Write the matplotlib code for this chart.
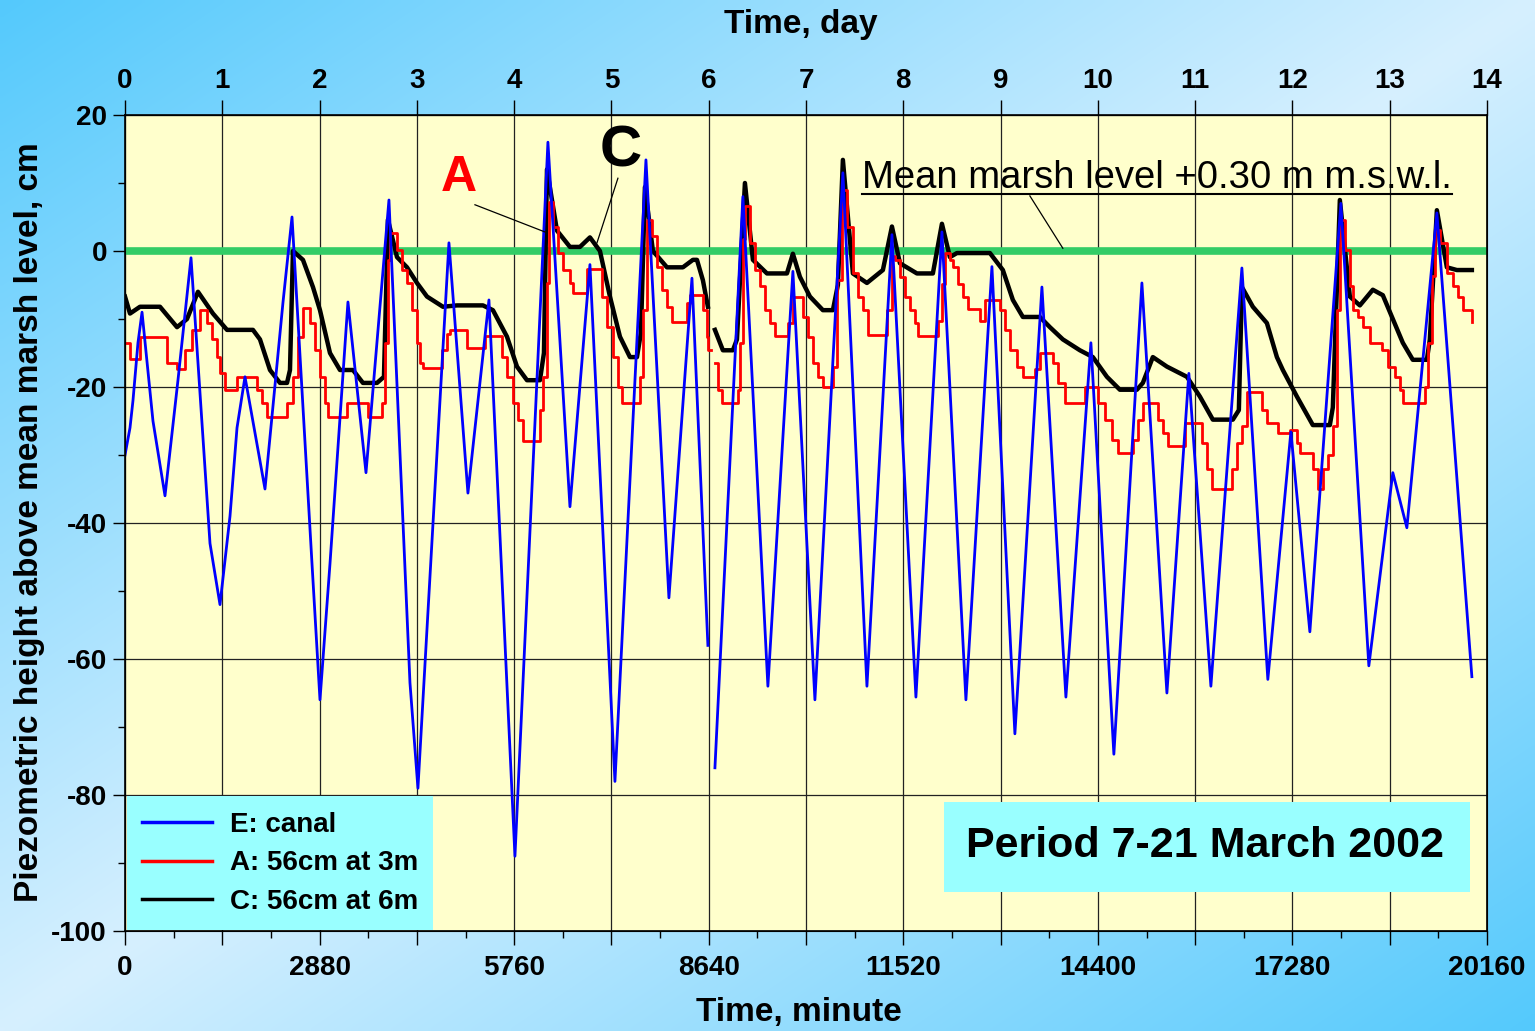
import numpy as np
import matplotlib
matplotlib.use("Agg")
from matplotlib import pyplot as plt
from matplotlib.lines import Line2D
from matplotlib.patches import Rectangle
from matplotlib.ticker import MultipleLocator, FixedLocator

plt.rcParams['font.family'] = ['Liberation Sans', 'DejaVu Sans']
plt.rcParams['axes.unicode_minus'] = False

nan = np.nan

# E: canal (time in minutes, level in cm) -- gap where logger was serviced
canal_t = [0, 74, 118, 192, 252, 414, 592, 784, 977, 1258, 1406, 1554, 1658, 1776,
           2072, 2338, 2472, 2768, 2886, 3034, 3300, 3567, 3907, 4218, 4336, 4795,
           5076, 5387, 5772, 6260, 6586, 6882, 7252, 7711, 8051, 8392, 8628, 8680,
           8732, 9146, 9516, 9886, 10212, 10626, 10982, 11352, 11707, 12092, 12447,
           12832, 13172, 13572, 13927, 14297, 14637, 15052, 15422, 15747, 16073,
           16532, 16916, 17257, 17538, 17997, 18411, 18766, 18974, 19418, 19936]
canal_h = [-30, -26, -22, -13.5, -9, -25, -36, -19, -1, -43, -52, -39, -26, -18.5,
           -35, -7.6, 5, -46, -66, -46, -7.5, -32.6, 7.5, -63.5, -79, 1.2,
           -35.6, -7.2, -89, 16, -37.6, -2, -78, 13.4, -51, -4, -58, nan,
           -76, 8, -64, -3, -66, 11.5, -64, 2.4, -65.6, 2.8, -66,
           -2.3, -71, -5.3, -65.6, -13.5, -74, -4.7, -65, -18, -64,
           -2.5, -63, -26.6, -56, 7, -61, -32.6, -40.7, 5.6, -62.6]

# A: 56cm at 3m
a_t = [0, 74, 222, 622, 770, 888, 992, 1110, 1214, 1288, 1362, 1406, 1480, 1658,
       1954, 2028, 2102, 2398, 2486, 2560, 2634, 2738, 2812, 2886, 2960, 3004,
       3286, 3596, 3804, 3848, 3892, 3922, 4026, 4100, 4174, 4248, 4322, 4366,
       4410, 4692, 4766, 4810, 5062, 5328, 5580, 5654, 5742, 5816, 5890, 6142,
       6186, 6246, 6275, 6334, 6408, 6482, 6586, 6630, 6838, 7060, 7134, 7222,
       7296, 7356, 7622, 7666, 7726, 7800, 7874, 7948, 8022, 8096, 8318, 8362,
       8554, 8614, 8628, 8680, 8732, 8776, 8836, 9072, 9102, 9146, 9176, 9250,
       9324, 9398, 9472, 9546, 9620, 9812, 9886, 10034, 10108, 10182, 10256,
       10330, 10478, 10538, 10612, 10686, 10774, 10848, 10922, 10996, 11278,
       11352, 11396, 11470, 11544, 11618, 11692, 11736, 12032, 12092, 12136,
       12210, 12254, 12328, 12402, 12476, 12654, 12728, 12950, 13024, 13098,
       13202, 13290, 13468, 13542, 13734, 13808, 13912, 14208, 14400, 14504,
       14608, 14696, 14918, 14992, 15066, 15288, 15362, 15436, 15688, 15940,
       16014, 16088, 16384, 16458, 16532, 16606, 16828, 16902, 17064, 17242,
       17346, 17390, 17582, 17656, 17730, 17804, 17878, 17938, 17982, 18056,
       18130, 18174, 18248, 18322, 18426, 18604, 18692, 18796, 18870, 18914,
       19240, 19284, 19344, 19388, 19462, 19566, 19654, 19728, 19802, 19936]
a_h = [-13.5, -15.9, -12.6, -16.5, -17.3, -14.6, -11.6, -8.7, -10.6, -13, -15.6, -18, -20.4, -18.5,
       -20.4, -22.4, -24.4, -22.4, -18.5, -12.6, -8.4, -10.6, -14.6, -18.5, -22.4, -24.4,
       -22.4, -24.4, -22.4, -13.5, -1.3, 2.6, 0.2, -2.8, -4.7, -8.7, -13.5, -16.5,
       -17.2, -14.6, -12.2, -11.6, -14.3, -12.5, -15.6, -18.5, -22.4, -24.8, -28, -23.4,
       -18.5, -4.7, 7.2, 3.6, -0.3, -2.8, -4.7, -6.2, -2.6, -6.7, -11.2, -15.6,
       -20, -22.4, -18.5, -8.7, 4.6, 2.2, -2.4, -5.7, -8.2, -10.4, -7.6, -6.5,
       -8.7, -12.6, -14.6, nan, -16.5, -20.4, -22.4, -20.4, -13.5, 1.7, 6.6, 1.2,
       -2.8, -5.2, -8.7, -10.6, -12.5, -10.6, -6.7, -9.7, -12.6, -16.5, -18.5,
       -20, -17, -4.3, 9, 3.6, -3.3, -6.7, -8.7, -12.4, -8.7,
       -0.8, -1.3, -3.8, -6.7, -8.7, -10.6, -12.5, -10.3, -4.9, -0.3,
       -1.3, -2.4, -4.8, -6.7, -8.5, -10.3, -7.2, -8.7, -11.6, -14.6,
       -17, -18.5, -17.3, -15, -16.5, -19.4, -22.4, -20, -22.4, -24.8,
       -27.8, -29.7, -27.8, -24.8, -22.4, -24.8, -26.8, -28.7, -25.3, -28.2,
       -32, -35, -32, -28.2, -25.8, -20.7, -23.4, -25.3, -26.8, -26.3,
       -28.2, -29.7, -32, -35, -32, -30, -25.8, -8.7, 4.6, 0.2,
       -5.2, -8.7, -9.7, -11.2, -13.5, -14.6, -17, -18.5, -20.4, -22.4,
       -20, -13.5, -3.7, 3.1, 1.2, -3.3, -5.2, -6.7, -8.7, -10.4]

# C: 56cm at 6m
c_t = [0, 74, 222, 518, 770, 918, 1080, 1302, 1510, 1894, 1998, 2146, 2294, 2398,
       2442, 2486, 2634, 2782, 2886, 3034, 3182, 3374, 3522, 3730, 3833, 3892,
       4026, 4174, 4322, 4470, 4706, 4914, 5298, 5446, 5654, 5802, 5950, 6142,
       6201, 6246, 6394, 6586, 6734, 6882, 7030, 7178, 7326, 7474, 7578, 7637,
       7696, 7814, 8022, 8258, 8406, 8466, 8554, 8628, 8680, 8732, 8850, 8998,
       9058, 9176, 9294, 9502, 9798, 9886, 9990, 10138, 10330, 10478, 10552,
       10626, 10774, 10982, 11218, 11352, 11470, 11722, 11958, 12092, 12210,
       12314, 12802, 12994, 13142, 13290, 13542, 13690, 13882, 14134, 14326,
       14534, 14726, 14978, 15066, 15214, 15422, 15718, 15910, 16102, 16398,
       16487, 16532, 16694, 16902, 17050, 17138, 17346, 17582, 17834, 17878,
       17982, 18130, 18278, 18470, 18618, 18766, 18914, 19062, 19270, 19314,
       19418, 19566, 19714, 19936]
c_h = [-6.7, -9.2, -8.2, -8.2, -11.2, -10, -6, -9.2, -11.6, -11.6, -13, -17.5, -19.4, -19.4,
       -17.5, 0, -1.3, -5.3, -8.7, -15, -17.5, -17.5, -19.4, -19.4, -18.5, 4.6,
       -0.9, -2.4, -4.7, -6.7, -8.2, -8, -8, -8.7, -12.6, -17, -19, -19,
       -15, 12, 3, 0.6, 0.6, 2, 0, -6.7, -12.6, -15.6, -15.6, -12,
       9.4, 0, -2.4, -2.4, -1.3, -1.3, -4.3, -8.2, nan, -11.6, -14.6, -14.6,
       -13, 10, -1.3, -3.3, -3.3, -0.4, -3.8, -6.7, -8.7, -8.7, -5,
       13.4, -3.3, -4.7, -2.8, 3.6, -1.8, -3.3, -3.3, 4, -0.9,
       -0.3, -0.3, -2.8, -7.2, -9.7, -9.7, -11.2, -13, -14.6, -15.6,
       -18.5, -20.4, -20.4, -19.4, -15.6, -17, -18.5, -21.4, -24.8, -24.8,
       -23.4, -5.3, -8.2, -10.6, -15.6, -17.5, -21.4, -25.6, -25.6, -23,
       7.5, -6.7, -8, -5.7, -6.5, -10, -13.5, -16, -16, -13,
       6, -2.4, -2.8, -2.8]

series_labels = ['E: canal', 'A: 56cm at 3m', 'C: 56cm at 6m']
minute_ticks = list(range(0, 20161, 1440))
day_ticks = list(range(0, 15))
level_ticks = list(range(-100, 21, 20))

W, H = 1535, 1031
fig = plt.figure(figsize=(W / 100, H / 100), dpi=100)

# diagonal light-blue background
bg = fig.add_axes([0, 0, 1, 1], zorder=-10)
gx, gy = np.meshgrid(np.linspace(0, 1, 300), np.linspace(0, 1, 200))
s = np.abs(gx + gy - 1.0)
light = np.array([0.84, 0.94, 1.0])
sat = np.array([0.33, 0.79, 0.99])
img = light[None, None, :] * (1 - s[..., None]) + sat[None, None, :] * s[..., None]
bg.imshow(img, extent=[0, 1, 0, 1], aspect='auto', interpolation='bilinear')
bg.axis('off')

ax = fig.add_axes([125 / W, 1 - 931 / H, 1362 / W, 816 / H])
ax.set_facecolor('#ffffcc')
ax.set_xlim(0, 20160)
ax.set_ylim(-100, 20)

ax.axhline(0, color='#33cc66', lw=5.5, zorder=2)
ax.plot(c_t, c_h, color='black', lw=3.2, zorder=3)
ax.plot(a_t, a_h, color='#ff0000', lw=2.0, drawstyle='steps-post', zorder=4)
ax.plot(canal_t, canal_h, color='#0000ff', lw=2.0, zorder=5)

# axes, ticks, grid
ax.xaxis.set_major_locator(FixedLocator(minute_ticks))
ax.set_xticklabels([str(t) if t % 2880 == 0 else '' for t in minute_ticks])
ax.xaxis.set_minor_locator(MultipleLocator(720))
ax.yaxis.set_major_locator(FixedLocator(level_ticks))
ax.yaxis.set_minor_locator(MultipleLocator(10))
ax.tick_params(axis='x', which='major', length=10, width=1, pad=7, labelsize=20)
ax.tick_params(axis='x', which='minor', length=5, width=1)
ax.tick_params(axis='y', which='major', length=9, width=1, pad=4, labelsize=20)
ax.tick_params(axis='y', which='minor', length=5, width=1)
for lab in ax.get_xticklabels() + ax.get_yticklabels():
    lab.set_fontweight('bold')
ax.grid(True, which='major', color='#222222', lw=0.9)
ax.set_axisbelow(True)
for sp in ax.spines.values():
    sp.set_linewidth(1.2)

ax2 = ax.twiny()
ax2.set_xlim(0, 14)
ax2.set_xticks(day_ticks)
ax2.tick_params(axis='x', length=11, width=1, pad=4, labelsize=20)
for lab in ax2.get_xticklabels():
    lab.set_fontweight('bold')

fig.text(801 / W, 1 - 24 / H, 'Time, day', ha='center', va='center', fontsize=24, fontweight='bold')
fig.text(799 / W, 1 - 1013 / H, 'Time, minute', ha='center', va='center', fontsize=24, fontweight='bold')
fig.text(30 / W, 1 - 522 / H, 'Piezometric height above mean marsh level, cm', ha='center', va='center',
         rotation=90, fontsize=24, fontweight='bold')

# legend
handles = [Line2D([], [], color='#0000ff', lw=2.5), Line2D([], [], color='#ff0000', lw=2.5),
           Line2D([], [], color='black', lw=2.5)]
leg = ax.legend(handles, series_labels, loc='lower left', bbox_to_anchor=(0.0015, 0.0012),
                borderaxespad=0, frameon=True, fancybox=False, facecolor='#99ffff', edgecolor='none',
                framealpha=1, prop={'size': 20, 'weight': 'bold'}, handlelength=2.5,
                handletextpad=0.65, labelspacing=0.45, borderpad=0.55)
leg.set_zorder(10)

# period box
ax.add_patch(Rectangle((0.6013, 0.0478), 0.3862, 0.1103, transform=ax.transAxes,
                       facecolor='#99ffff', edgecolor='none', zorder=10))
ax.text(0.793, 0.104, 'Period 7-21 March 2002', transform=ax.transAxes, ha='center', va='center',
        fontsize=31, fontweight='bold', zorder=11)

# annotations
ax.text(4943, 10.7, 'A', color='#ff0000', fontsize=36, fontweight='bold', ha='center', va='center', zorder=6)
ax.plot([5180, 6216], [6.8, 2.8], color='black', lw=0.9, zorder=6)
ax.text(7341, 14.7, 'C', color='black', fontsize=42, fontweight='bold', ha='center', va='center', zorder=6)
ax.plot([7296, 6986], [10.7, 1.2], color='black', lw=0.9, zorder=6)
mtxt = ax.text(10908, 10.7, 'Mean marsh level +0.30 m m.s.w.l.', fontsize=27.5, ha='left', va='center', zorder=6)
ax.plot([13394, 13882], [8.1, 0.4], color='black', lw=0.9, zorder=6)

fig.canvas.draw()
bb = mtxt.get_window_extent()
inv = ax.transData.inverted()
x0, y0 = inv.transform((bb.x0, bb.y0 + 2))
x1, _ = inv.transform((bb.x1, bb.y0 + 2))
ax.plot([x0, x1], [y0, y0], color='black', lw=1.5, zorder=6)

fig.savefig('out.png', dpi=100)
